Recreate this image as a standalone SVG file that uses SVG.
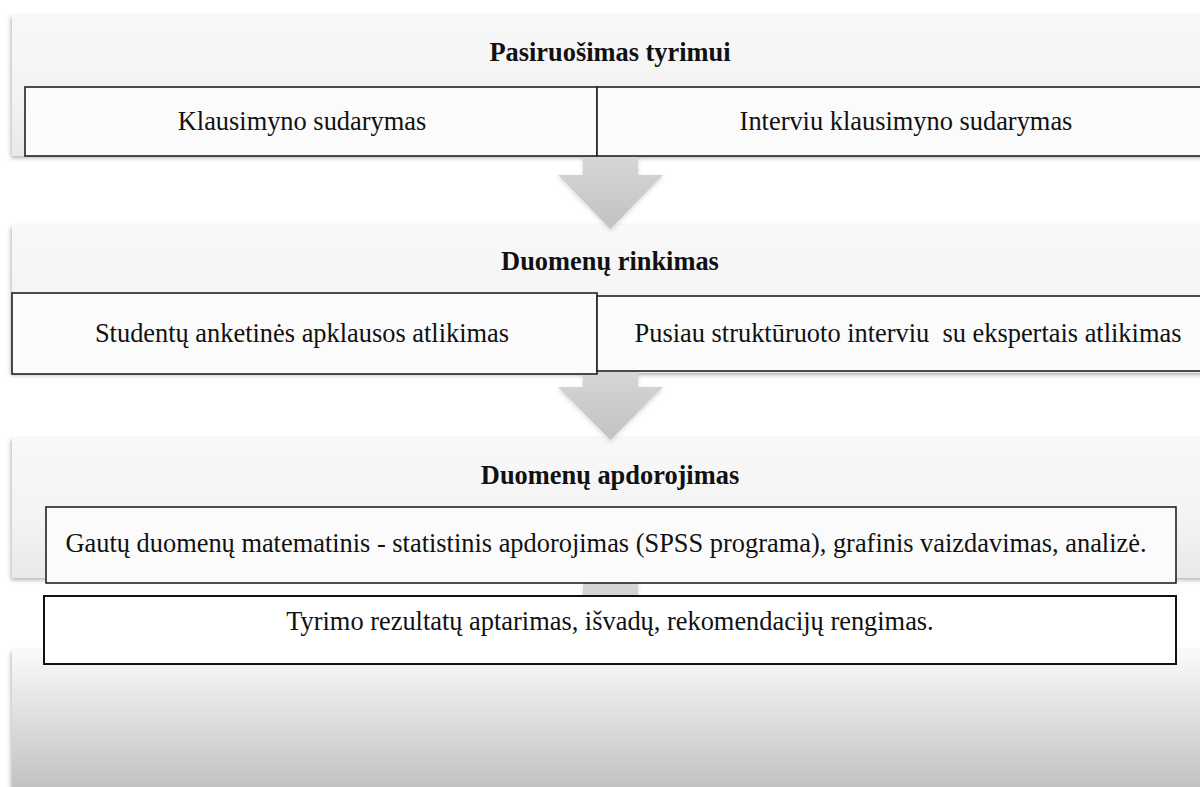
<svg xmlns="http://www.w3.org/2000/svg" width="1200" height="787" viewBox="0 0 1200 787">
  <defs>
    <linearGradient id="bandGrad" x1="0" y1="0" x2="0" y2="1">
      <stop offset="0" stop-color="#f8f8f8"/>
      <stop offset="0.55" stop-color="#f4f4f4"/>
      <stop offset="1" stop-color="#e9e9e9"/>
    </linearGradient>
    <linearGradient id="lastGrad" x1="0" y1="0" x2="0" y2="1">
      <stop offset="0" stop-color="#fafafa"/>
      <stop offset="1" stop-color="#bdbdbd"/>
    </linearGradient>
    <linearGradient id="arrowGrad" x1="0" y1="0" x2="0" y2="1">
      <stop offset="0" stop-color="#d6d6d6"/>
      <stop offset="1" stop-color="#c2c2c2"/>
    </linearGradient>
    <filter id="shadow" x="-5%" y="-10%" width="110%" height="130%">
      <feDropShadow dx="-1" dy="2" stdDeviation="2" flood-color="#000" flood-opacity="0.3"/>
    </filter>
    <filter id="arrowShadow" x="-20%" y="-20%" width="140%" height="140%">
      <feDropShadow dx="0" dy="2" stdDeviation="2" flood-color="#000" flood-opacity="0.15"/>
    </filter>
  </defs>
  <style>
    .band { fill: url(#bandGrad); filter: url(#shadow); }
    .box { fill: #fbfbfb; stroke: #222; stroke-width: 1.6; }
    .box2 { fill: #ffffff; stroke: #111; stroke-width: 2; }
    .arrow { fill: url(#arrowGrad); filter: url(#arrowShadow); }
    .title { font-family: "Liberation Serif", "Times New Roman", serif; font-size: 26.4px; font-weight: bold; fill: #111; text-anchor: middle; }
    .txt { font-family: "Liberation Serif", "Times New Roman", serif; font-size: 26.4px; fill: #111; text-anchor: middle; }
  </style>
  <rect width="1200" height="787" fill="#ffffff"/>

  <g id="stage1">
    <rect class="band" x="12" y="15" width="1210" height="141"/>
    <text class="title" x="610" y="61">Pasiruošimas tyrimui</text>
  </g>
  <g id="stage2">
    <rect class="band" x="12" y="225" width="1210" height="148"/>
    <text class="title" x="610" y="270">Duomenų rinkimas</text>
  </g>
  <g id="stage3">
    <rect class="band" x="12" y="438" width="1210" height="140"/>
    <text class="title" x="610" y="484">Duomenų apdorojimas</text>
  </g>
  <g id="stage4">
    <rect x="12" y="650" width="1210" height="150" fill="url(#lastGrad)" filter="url(#shadow)"/>
  </g>

  <g id="connectors">
    <polygon class="arrow" points="583,156 638,156 638,175 663,175 610.5,229 558,175 583,175"/>
    <polygon class="arrow" points="583,372 638,372 638,387 663,387 610.5,440 558,387 583,387"/>
    <polygon class="arrow" points="583,583 638,583 638,600 663,600 610.5,652 558,600 583,600"/>
  </g>

  <g id="task-klausimynas">
    <rect class="box" x="25" y="87" width="572" height="69"/>
    <text class="txt" x="302" y="130">Klausimyno sudarymas</text>
  </g>
  <g id="task-interviu-klausimynas">
    <rect class="box" x="597" y="87" width="630" height="69"/>
    <text class="txt" x="906" y="130">Interviu klausimyno sudarymas</text>
  </g>
  <g id="task-anketine-apklausa">
    <rect class="box" x="12" y="293" width="585" height="81"/>
    <text class="txt" x="302" y="342">Studentų anketinės apklausos atlikimas</text>
  </g>
  <g id="task-interviu-ekspertai">
    <rect class="box" x="597" y="296" width="630" height="75"/>
    <text class="txt" x="908" y="342" xml:space="preserve">Pusiau struktūruoto interviu  su ekspertais atlikimas</text>
  </g>
  <g id="task-apdorojimas">
    <rect class="box" x="46" y="507" width="1130" height="76"/>
    <text class="txt" x="606" y="552">Gautų duomenų matematinis - statistinis apdorojimas (SPSS programa), grafinis vaizdavimas, analizė.</text>
  </g>
  <g id="task-rezultatai">
    <rect class="box2" x="44" y="596" width="1132" height="68"/>
    <text class="txt" x="610" y="630">Tyrimo rezultatų aptarimas, išvadų, rekomendacijų rengimas.</text>
  </g>
</svg>
